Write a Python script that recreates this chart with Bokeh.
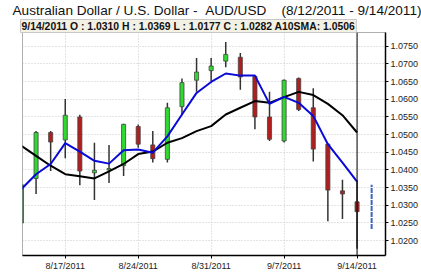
from bokeh.plotting import figure
from bokeh.models import ColumnDataSource, FixedTicker, Span, Range1d, NumeralTickFormatter, Title
from bokeh.embed import file_html
from bokeh.resources import INLINE

dates = ["8/12/2011", "8/15/2011", "8/16/2011", "8/17/2011", "8/18/2011", "8/19/2011",
         "8/22/2011", "8/23/2011", "8/24/2011", "8/25/2011", "8/26/2011", "8/29/2011",
         "8/30/2011", "8/31/2011", "9/1/2011", "9/2/2011", "9/5/2011", "9/6/2011",
         "9/7/2011", "9/8/2011", "9/9/2011", "9/12/2011", "9/13/2011", "9/14/2011"]
opens = [1.0250, 1.0376, 1.0506, 1.0485, 1.0550, 1.0392, 1.0400, 1.0412, 1.0523, 1.0471, 1.0430, 1.0579,
         1.0654, 1.0681, 1.0708, 1.0719, 1.0665, 1.0550, 1.0482, 1.0659, 1.0576, 1.0473, 1.0341, 1.0310]
highs = [1.0360, 1.0510, 1.0510, 1.0601, 1.0556, 1.0477, 1.0471, 1.0531, 1.0529, 1.0510, 1.0590, 1.0659,
         1.0717, 1.0717, 1.0762, 1.0731, 1.0667, 1.0621, 1.0656, 1.0662, 1.0631, 1.0475, 1.0372, 1.0369]
lows = [1.0247, 1.0332, 1.0397, 1.0433, 1.0357, 1.0315, 1.0363, 1.0383, 1.0463, 1.0421, 1.0421, 1.0555,
        1.0621, 1.0651, 1.0691, 1.0627, 1.0515, 1.0482, 1.0478, 1.0567, 1.0424, 1.0255, 1.0261, 1.0177]
closes = [1.0358, 1.0506, 1.0479, 1.0555, 1.0397, 1.0399, 1.0404, 1.0529, 1.0473, 1.0432, 1.0576, 1.0647,
          1.0677, 1.0694, 1.0727, 1.0663, 1.0550, 1.0487, 1.0654, 1.0571, 1.0459, 1.0343, 1.0332, 1.0282]
sma_fast = [1.0346, 1.0388, 1.0417, 1.0476, 1.0452, 1.0426, 1.0418, 1.0456, 1.0458, 1.0449, 1.0495, 1.0557,
            1.0618, 1.0649, 1.0673, 1.0667, 1.0667, 1.0587, 1.0607, 1.0590, 1.0553, 1.0473, 1.0421, 1.0367]
sma10 = [1.0468, 1.0440, 1.0412, 1.0388, 1.0382, 1.0376, 1.0396, 1.0417, 1.0445, 1.0452, 1.0477, 1.0490,
         1.0510, 1.0524, 1.0557, 1.0576, 1.0595, 1.0590, 1.0606, 1.0621, 1.0612, 1.0587, 1.0555, 1.0506]
proj_range = [1.0233, 1.0358]
tick_dates = ["8/17/2011", "8/24/2011", "8/31/2011", "9/7/2011", "9/14/2011"]
y_ticks = [1.0200, 1.0250, 1.0300, 1.0350, 1.0400, 1.0450, 1.0500, 1.0550, 1.0600, 1.0650, 1.0700, 1.0750]
title_left = "Australian Dollar / U.S. Dollar - \u00a0AUD/USD"
title_right = "(8/12/2011 - 9/14/2011)"

idx = list(range(len(dates)))
GREEN = "#2fd92f"
RED = "#b01e1e"
colors = [GREEN if c >= o else RED for o, c in zip(opens, closes)]
src = ColumnDataSource(dict(x=idx, o=opens, h=highs, l=lows, c=closes,
                            top=[max(o, c) for o, c in zip(opens, closes)],
                            bot=[min(o, c) for o, c in zip(opens, closes)],
                            col=colors, fast=sma_fast, slow=sma10))

p = figure(width=421, height=273, output_backend="svg", toolbar_location=None, title=None,
           x_range=Range1d(0.07, 24.95), y_range=Range1d(1.0158, 1.0789),
           y_axis_location="right", min_border_left=22, min_border_right=5,
           min_border_top=0, min_border_bottom=5)
p.background_fill_color = "white"
p.border_fill_color = "white"
p.outline_line_color = "#b0b0b0"

# grid
p.xgrid.ticker = FixedTicker(ticks=[dates.index(d) for d in tick_dates])
p.ygrid.ticker = FixedTicker(ticks=y_ticks)
for g in (p.xgrid, p.ygrid):
    g.grid_line_color = "#c8c8c8"
    g.grid_line_dash = "1 2"
    g.grid_line_width = 1

# x axis
p.xaxis.ticker = FixedTicker(ticks=[dates.index(d) for d in tick_dates])
p.xaxis.major_label_overrides = {dates.index(d): d for d in tick_dates}
p.xaxis.minor_tick_line_color = None
p.xaxis.major_tick_in = 0
p.xaxis.major_tick_out = 3
p.xaxis.major_label_standoff = 2
p.xaxis.axis_line_color = "black"
p.xaxis.axis_line_width = 1.5
p.xaxis.major_label_text_font = "Liberation Sans"
p.xaxis.major_label_text_font_size = "9px"
p.xaxis.major_label_text_color = "#222222"

# y axis (right)
p.yaxis.ticker = FixedTicker(ticks=y_ticks)
p.yaxis.formatter = NumeralTickFormatter(format="0.0000")
p.yaxis.minor_tick_line_color = None
p.yaxis.major_tick_in = 0
p.yaxis.major_tick_out = 3
p.yaxis.major_label_standoff = 2
p.yaxis.axis_line_color = "black"
p.yaxis.axis_line_width = 1.5
p.yaxis.major_label_text_font = "Liberation Sans"
p.yaxis.major_label_text_font_size = "9px"
p.yaxis.major_label_text_color = "#222222"

# candles
p.segment(x0="x", y0="h", x1="x", y1="l", source=src, line_color="#333333", line_width=1.5)
p.vbar(x="x", top="top", bottom="bot", width=0.28, source=src, fill_color="col",
       line_color="#444444", line_width=0.8)

# moving averages
p.line(x="x", y="slow", source=src, line_color="black", line_width=2)
p.line(x="x", y="fast", source=src, line_color="#0a0ad8", line_width=2)

# projection range for next session
p.segment(x0=[len(dates)], y0=[proj_range[0]], x1=[len(dates)], y1=[proj_range[1]],
          line_color="#3a62c8", line_width=2, line_dash="5 1")

# crosshair at last date
p.add_layout(Span(location=len(dates) - 1, dimension="height", line_color="black", line_width=1))

# header (closest to frame) and title
last = len(dates) - 1
header = (f"{dates[last]} O : {opens[last]:.4f} H : {highs[last]:.4f} L : {lows[last]:.4f} "
          f"C : {closes[last]:.4f} A10SMA: {sma10[last]:.4f}")
p.add_layout(Title(text=header, align="left", offset=-2, standoff=0, padding=1,
                   text_font="Liberation Sans", text_font_style="bold", text_font_size="10.4px",
                   text_color="#111111", background_fill_color="#f3f0e4",
                   border_line_color="#c8c8c8"), "above")
p.add_layout(Title(text=title_left + "\u00a0" * 4 + title_right, align="left", offset=-10,
                   standoff=0, text_font="Liberation Sans", text_font_style="normal",
                   text_font_size="13.6px", text_color="#111111"), "above")

open("out.html", "w").write(file_html(p, INLINE))
